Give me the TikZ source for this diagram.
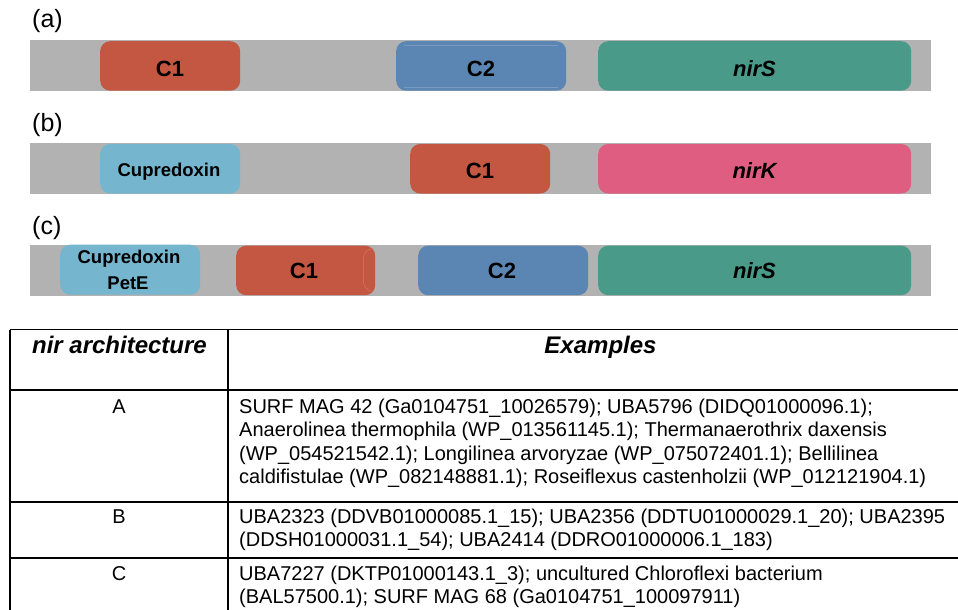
\documentclass[tikz,border=0pt]{standalone}
\usepackage{fontspec}
\setmainfont{Liberation Sans}
\definecolor{cOne}{RGB}{196,87,65}
\definecolor{cTwo}{RGB}{91,133,178}
\definecolor{cTwoLine}{RGB}{120,155,195}
\definecolor{cOneLine}{RGB}{215,120,100}
\definecolor{cNirS}{RGB}{74,154,138}
\definecolor{cNirK}{RGB}{222,93,128}
\definecolor{cCup}{RGB}{117,181,206}
\definecolor{cBar}{RGB}{178,178,178}
\begin{document}
\begin{tikzpicture}[x=1pt,y=-1pt,
  bar/.style={fill=cBar,draw=none},
  gene/.style={draw=none,rounded corners=10pt,inner sep=0pt,anchor=north west},
  glabel/.style={font=\fontsize{22}{24}\selectfont\bfseries,anchor=base,inner sep=0pt},
  gitalic/.style={font=\fontsize{22}{24}\selectfont\bfseries\itshape,anchor=base,inner sep=0pt},
  cuplabel/.style={font=\fontsize{18.5}{22}\selectfont\bfseries,anchor=base,inner sep=0pt},
  panel/.style={font=\fontsize{25}{28}\selectfont,anchor=base west,inner sep=0pt},
  thead/.style={font=\fontsize{24}{28}\selectfont\bfseries\itshape,anchor=base,inner sep=0pt},
  tcell/.style={font=\fontsize{20}{23}\selectfont,anchor=base west,inner sep=0pt},
  tkey/.style={font=\fontsize{20}{23}\selectfont,anchor=base,inner sep=0pt},
  rule/.style={line width=1.2pt,black}
]
\useasboundingbox (0,0) rectangle (958,610);

% ---------- panel (a)
\node[panel] (pa) at (32,28) {(a)};
\fill[bar] (30,40) rectangle (931,90.7);
\node[gene,fill=cOne,minimum width=140pt,minimum height=49.5pt] (a1) at (100,41) {};
\node[gene,fill=cTwo,minimum width=170pt,minimum height=49.5pt] (a2) at (396,41) {};
\draw[cTwoLine,line width=0.5pt] (a2.north west)++(8,4) coordinate (a2t1) -- ++(154,0) coordinate (a2t2);
\draw[cTwoLine,line width=0.5pt] (a2.south west)++(8,-4) coordinate (a2b1) -- ++(154,0) coordinate (a2b2);
\node[gene,fill=cNirS,minimum width=313pt,minimum height=49.5pt] (a3) at (598,41) {};
\node[glabel] (a1l) at (170,76) {C1};
\node[glabel] (a2l) at (481,76) {C2};
\node[gitalic] (a3l) at (754.5,76) {nirS};

% ---------- panel (b)
\node[panel] (pb) at (32,131) {(b)};
\fill[bar] (30,143.3) rectangle (931,193.5);
\node[gene,fill=cCup,minimum width=140pt,minimum height=49.5pt] (b1) at (100,143.8) {};
\node[gene,fill=cOne,minimum width=140pt,minimum height=49.5pt] (b2) at (410,143.8) {};
\node[gene,fill=cNirK,minimum width=313pt,minimum height=49.5pt] (b3) at (598,143.8) {};
\node[cuplabel] (b1l) at (169,176) {Cupredoxin};
\node[glabel] (b2l) at (480,178) {C1};
\node[gitalic] (b3l) at (754.5,178) {nirK};

% ---------- panel (c)
\node[panel] (pc) at (32,234) {(c)};
\fill[bar] (30,245) rectangle (931,295.7);
\node[gene,fill=cCup,minimum width=140pt,minimum height=50pt] (c1) at (60,244.5) {};
\node[gene,fill=cOne,minimum width=139pt,minimum height=49.5pt] (c2) at (236,245.5) {};
\draw[cOneLine,line width=0.5pt] (c2.north east)++(-2,3) coordinate (c2p1)
   to[out=180,in=90] ++(-10,10) coordinate (c2p2) -- ++(0,23) coordinate (c2p3)
   to[out=-90,in=180] ++(10,10) coordinate (c2p4);
\node[gene,fill=cTwo,minimum width=170pt,minimum height=49.5pt] (c3) at (418,245.5) {};
\node[gene,fill=cNirS,minimum width=313pt,minimum height=49.5pt] (c4) at (598,245.5) {};
\node[cuplabel] (c1l) at (129,263) {Cupredoxin};
\node[cuplabel] (c1m) at (128,289) {PetE};
\node[glabel] (c2l) at (304,278) {C1};
\node[glabel] (c3l) at (502,278) {C2};
\node[gitalic] (c4l) at (754.5,278) {nirS};

% ---------- table
\coordinate (tTL) at (10,329.5);
\coordinate (tTR) at (958,329.5);
\coordinate (tBL) at (10,610);
\coordinate (tML) at (228,329.5);
\coordinate (tMB) at (228,610);
\coordinate (h1L) at (10,390);
\coordinate (h1R) at (958,390);
\coordinate (h2L) at (10,502);
\coordinate (h2R) at (958,502);
\coordinate (h3L) at (10,558);
\coordinate (h3R) at (958,558);
\draw[rule] (tTL) -- (tTR);
\draw[rule] (tTL) -- (tBL);
\draw[rule] (tML) -- (tMB);
\draw[rule] (h1L) -- (h1R);
\draw[rule] (h2L) -- (h2R);
\draw[rule] (h3L) -- (h3R);

\node[thead] (th1) at (119.5,353) {nir architecture};
\node[thead] (th2) at (600.5,353) {Examples};

\node[tkey] (kA) at (119,413) {A};
\node[tcell] (rA1) at (239,413) {SURF MAG 42 (Ga0104751\_10026579); UBA5796 (DIDQ01000096.1);};
\node[tcell] (rA2) at (239,436.5) {Anaerolinea thermophila (WP\_013561145.1); Thermanaerothrix daxensis};
\node[tcell] (rA3) at (239,460) {(WP\_054521542.1); Longilinea arvoryzae (WP\_075072401.1); Bellilinea};
\node[tcell] (rA4) at (239,483.5) {caldifistulae (WP\_082148881.1); Roseiflexus castenholzii (WP\_012121904.1)};

\node[tkey] (kB) at (119,523) {B};
\node[tcell] (rB1) at (239,523) {UBA2323 (DDVB01000085.1\_15); UBA2356 (DDTU01000029.1\_20); UBA2395};
\node[tcell] (rB2) at (239,546.5) {(DDSH01000031.1\_54); UBA2414 (DDRO01000006.1\_183)};

\node[tkey] (kC) at (119,580) {C};
\node[tcell] (rC1) at (239,580) {UBA7227 (DKTP01000143.1\_3); uncultured Chloroflexi bacterium};
\node[tcell] (rC2) at (239,603.5) {(BAL57500.1); SURF MAG 68 (Ga0104751\_100097911)};
\end{tikzpicture}
\end{document}
